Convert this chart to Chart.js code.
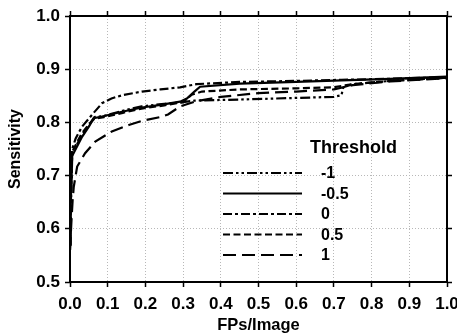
<!DOCTYPE html>
<html>
<head>
<meta charset="utf-8">
<script src="https://cdn.jsdelivr.net/npm/chart.js@4.4.0/dist/chart.umd.min.js"></script>
<style>
html,body{margin:0;padding:0;background:#fff;}
#c{display:block;}
</style>
</head>
<body>
<canvas id="c" width="457" height="335"></canvas>
<script>
// ---- Data ----
const thresholds = ["-1", "-0.5", "0", "0.5", "1"];
const xTickLabels = ["0.0","0.1","0.2","0.3","0.4","0.5","0.6","0.7","0.8","0.9","1.0"];
const yTickLabels = ["0.5","0.6","0.7","0.8","0.9","1.0"];

const seriesM1 = [ // threshold -1
  [0,0.58],[0.003,0.66],[0.006,0.74],[0.03,0.775],[0.05,0.795],[0.065,0.81],[0.09,0.812],
  [0.14,0.822],[0.19,0.83],[0.25,0.835],[0.3,0.838],[0.33,0.841],[0.45,0.843],[0.6,0.846],
  [0.7,0.848],[0.72,0.851],[0.725,0.866],[0.75,0.872],[0.85,0.878],[1.0,0.884]
];
const seriesM05 = [ // threshold -0.5
  [0,0.57],[0.002,0.65],[0.005,0.736],[0.032,0.773],[0.05,0.792],[0.063,0.808],[0.085,0.811],
  [0.138,0.82],[0.191,0.828],[0.24,0.833],[0.292,0.839],[0.31,0.845],[0.33,0.858],[0.345,0.867],
  [0.45,0.873],[0.6,0.876],[0.72,0.879],[0.85,0.882],[1.0,0.886]
];
const series0 = [ // threshold 0
  [0,0.56],[0.002,0.65],[0.005,0.748],[0.015,0.77],[0.032,0.792],[0.058,0.814],[0.085,0.836],
  [0.11,0.845],[0.138,0.851],[0.191,0.858],[0.24,0.862],[0.292,0.866],[0.336,0.872],[0.45,0.876],
  [0.6,0.878],[0.72,0.88],[0.85,0.882],[1.0,0.885]
];
const seriesP05 = [ // threshold 0.5
  [0,0.57],[0.003,0.67],[0.006,0.745],[0.03,0.778],[0.05,0.796],[0.065,0.807],[0.09,0.81],
  [0.14,0.818],[0.19,0.826],[0.25,0.832],[0.3,0.838],[0.323,0.852],[0.35,0.858],[0.45,0.862],
  [0.6,0.864],[0.7,0.866],[0.75,0.872],[0.85,0.878],[1.0,0.884]
];
const seriesP1 = [ // threshold 1
  [0,0.56],[0.004,0.617],[0.007,0.654],[0.01,0.679],[0.019,0.717],[0.04,0.742],[0.067,0.764],
  [0.111,0.783],[0.156,0.795],[0.191,0.803],[0.239,0.81],[0.26,0.815],[0.292,0.83],[0.336,0.84],
  [0.4,0.848],[0.5,0.855],[0.6,0.858],[0.7,0.862],[0.75,0.87],[0.85,0.877],[1.0,0.883]
];

// ---- Styles ----
const allSeries = [seriesM1, seriesM05, series0, seriesP05, seriesP1];
const dashes = [[10,3,2.5,3,2.5,3], [], [9,3,3,3], [7,3.5], [13,6]];
const FONT = "'Liberation Sans', Arial, Helvetica, sans-serif";

const datasets = allSeries.map((s, i) => ({
  label: thresholds[i],
  data: s.map(p => ({x: p[0], y: p[1]})),
  showLine: true,
  borderColor: '#000',
  backgroundColor: '#000',
  borderWidth: 2.2,
  borderDash: dashes[i],
  pointRadius: 0,
  tension: 0,
  fill: false
}));

const frameAndLegend = {
  id: 'frameAndLegend',
  afterDraw(chart) {
    const ctx = chart.ctx, a = chart.chartArea;
    ctx.save();
    ctx.strokeStyle = '#000';
    ctx.lineWidth = 2;
    ctx.setLineDash([]);
    ctx.strokeRect(a.left, a.top, a.right - a.left, a.bottom - a.top);
    // legend
    ctx.fillStyle = '#000';
    ctx.textBaseline = 'middle';
    ctx.textAlign = 'left';
    ctx.font = "bold 18px " + FONT;
    ctx.fillText('Threshold', 310, 148);
    ctx.font = "bold 16px " + FONT;
    thresholds.forEach((t, i) => {
      const y = 173 + 20.5 * i;
      ctx.beginPath();
      ctx.lineWidth = 2.2;
      ctx.setLineDash(dashes[i]);
      ctx.moveTo(223, y);
      ctx.lineTo(302, y);
      ctx.stroke();
      ctx.setLineDash([]);
      ctx.fillText(t, 321, y + 1);
    });
    ctx.restore();
  }
};

const gridCommon = {
  color: '#b8b8b8',
  lineWidth: 1,
  borderDash: [1, 2],
  tickBorderDash: [],
  tickColor: '#000',
  tickWidth: 1.5,
  tickLength: 5
};

const noPad = (s) => { s.paddingLeft = 0; s.paddingRight = 0; s.paddingTop = 0; s.paddingBottom = 0; };

new Chart(document.getElementById('c'), {
  type: 'scatter',
  data: { datasets },
  plugins: [frameAndLegend],
  options: {
    responsive: false,
    animation: false,
    layout: { padding: 0 },
    plugins: { legend: { display: false }, tooltip: { enabled: false } },
    scales: {
      x: {
        type: 'linear', position: 'bottom', min: 0, max: 1,
        afterBuildTicks: (s) => { s.ticks = xTickLabels.map(v => ({value: parseFloat(v)})); },
        ticks: {
          callback: (v, i) => xTickLabels[i],
          color: '#000', font: { family: FONT, size: 17, weight: 'bold' }, padding: 7,
          maxRotation: 0, autoSkip: false
        },
        grid: gridCommon,
        border: { display: false, dash: [1, 2] },
        title: { display: true, text: 'FPs/Image', color: '#000',
                 font: { family: FONT, size: 16.5, weight: 'bold' }, padding: { top: 4, bottom: 0 } },
        afterFit: (s) => { s.height = 53; noPad(s); }
      },
      x2: {
        type: 'linear', position: 'top', min: 0, max: 1,
        afterBuildTicks: (s) => { s.ticks = xTickLabels.map(v => ({value: parseFloat(v)})); },
        ticks: { display: false },
        grid: Object.assign({}, gridCommon, { drawOnChartArea: false }),
        border: { display: false },
        afterFit: (s) => { s.height = 16; noPad(s); }
      },
      y: {
        type: 'linear', position: 'left', min: 0.5, max: 1.0,
        afterBuildTicks: (s) => { s.ticks = yTickLabels.map(v => ({value: parseFloat(v)})); },
        ticks: {
          callback: (v, i) => yTickLabels[i],
          color: '#000', font: { family: FONT, size: 17, weight: 'bold' }, padding: 5, autoSkip: false
        },
        grid: gridCommon,
        border: { display: false, dash: [1, 2] },
        title: { display: true, text: 'Sensitivity', color: '#000',
                 font: { family: FONT, size: 16, weight: 'bold' }, padding: { top: 6, bottom: 0 } },
        afterFit: (s) => { s.width = 70; noPad(s); }
      },
      y2: {
        type: 'linear', position: 'right', min: 0.5, max: 1.0,
        afterBuildTicks: (s) => { s.ticks = yTickLabels.map(v => ({value: parseFloat(v)})); },
        ticks: { display: false },
        grid: Object.assign({}, gridCommon, { drawOnChartArea: false }),
        border: { display: false },
        afterFit: (s) => { s.width = 10; noPad(s); }
      }
    }
  }
});
</script>
</body>
</html>
